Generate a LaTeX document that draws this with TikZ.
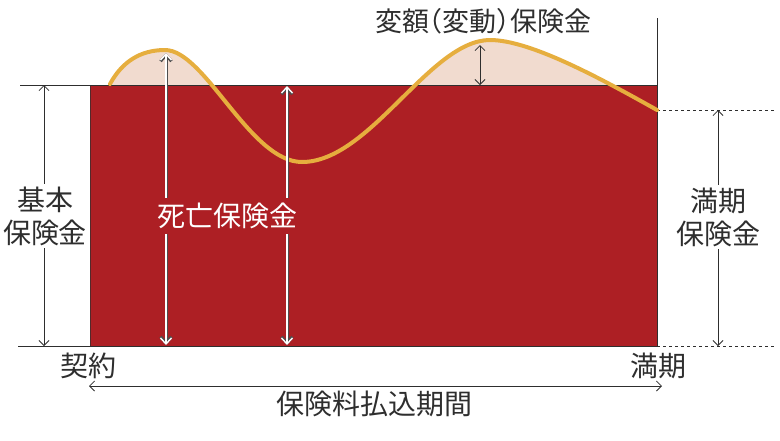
\documentclass[tikz,border=0pt]{standalone}
\usepackage{fontspec}
\newfontfamily\jp{Noto Sans CJK JP}
\usetikzlibrary{arrows.meta}
\definecolor{redbox}{HTML}{AD1F24}
\definecolor{pinkfill}{HTML}{F1DBCF}
\definecolor{curvecol}{HTML}{E6AE3E}
\definecolor{txt}{HTML}{2E2E2E}
\begin{document}
\begin{tikzpicture}[x=1pt,y=-1pt,
  lbl/.style={font=\jp\fontsize{28}{33}\selectfont, text=txt, inner sep=0pt, align=center},
  thinline/.style={draw=txt, line width=0.9pt},
  dimarrow/.style={draw=txt, line width=0.8pt, {Straight Barb[length=5pt,width=10pt]}-{Straight Barb[length=5pt,width=10pt]}},
  outerarrow/.style={draw=txt!85, line width=3pt, {Straight Barb[length=6pt,width=11pt]}-{Straight Barb[length=6pt,width=11pt]}},
  innerarrow/.style={draw=white, line width=1.4pt, {Straight Barb[length=6pt,width=11pt]}-{Straight Barb[length=6pt,width=11pt]}}
]
\useasboundingbox (0,0) rectangle (780,440);

% key coordinates
\coordinate (TL) at (90,85);
\coordinate (BR) at (657,346);
\coordinate (topL) at (20,85);
\coordinate (topR) at (657,85);
\coordinate (botL) at (18,346);
\coordinate (vtop) at (657,18);
\coordinate (dashTopL) at (657,110);
\coordinate (dashTopR) at (776,110);
\coordinate (dashBotR) at (776,346);

% pink area above base line
\begin{scope}
  \clip (100,0) rectangle (657,85);
  \fill[pinkfill] (110,84) .. controls (122,62) and (140,50) .. (165,50)
    .. controls (205,50) and (250,162) .. (302,162)
    .. controls (370,162) and (430,40) .. (490,40)
    .. controls (530,40) and (600,78) .. (657,110)
    -- (657,200) -- (110,200) -- cycle;
\end{scope}

% red box
\fill[redbox] (TL) rectangle (BR);
\draw[draw=txt!70!redbox, line width=0.6pt] (TL) -- (TL |- BR);

% lines
\draw[thinline] (topL) -- (topR);
\draw[thinline] (botL) -- (BR);
\draw[thinline] (vtop) -- (BR);
\draw[txt, line width=0.8pt, dash pattern=on 3pt off 3pt] (dashTopL) -- (dashTopR);
\draw[txt, line width=0.8pt, dash pattern=on 3pt off 3pt] (BR) -- (dashBotR);

% curve
\draw[curvecol, line width=4pt, line cap=round]
  (110,84) .. controls (122,62) and (140,50) .. (165,50)
    .. controls (205,50) and (250,162) .. (302,162)
    .. controls (370,162) and (430,40) .. (490,40)
    .. controls (530,40) and (600,78) .. (657,110);

% death benefit arrows
\coordinate (d1t) at (166,53);
\coordinate (d1b) at (166,345);
\coordinate (d2t) at (287,86);
\coordinate (d2b) at (287,345);
\draw[outerarrow] (d1t) -- (d1b);
\draw[innerarrow] (d1t) -- (d1b);
\draw[outerarrow] (d2t) -- (d2b);
\draw[innerarrow] (d2t) -- (d2b);

% dimension arrows
\coordinate (la) at (44,85);
\coordinate (lb) at (44,346);
\coordinate (ra) at (718,110);
\coordinate (rb) at (718,346);
\coordinate (va) at (480,45);
\coordinate (vb) at (480,85);
\coordinate (pa) at (89,386);
\coordinate (pb) at (662,386);
\draw[dimarrow] (la) -- (lb);
\draw[dimarrow] (ra) -- (rb);
\draw[dimarrow] (va) -- (vb);
\draw[dimarrow] (pa) -- (pb);

% labels
\node[lbl, fill=white, inner sep=3pt] (kihon) at (45,216) {基本\\保険金};
\node[lbl, fill=white, inner sep=3pt] (manki) at (718,217) {満期\\保険金};
\node[lbl, text=white, fill=redbox, inner ysep=5pt, inner xsep=2pt] (shibo) at (227,216) {死亡保険金};
\node[lbl, font=\jp\fontsize{27}{32}\selectfont] (hengaku) at (483,21) {変額\kern-.5em（変動）\kern-.5em保険金};
\node[lbl] (keiyaku) at (88,366) {契約};
\node[lbl] (mankiB) at (658,366) {満期};
\node[lbl] (haraikomi) at (374,404) {保険料払込期間};
\end{tikzpicture}
\end{document}
